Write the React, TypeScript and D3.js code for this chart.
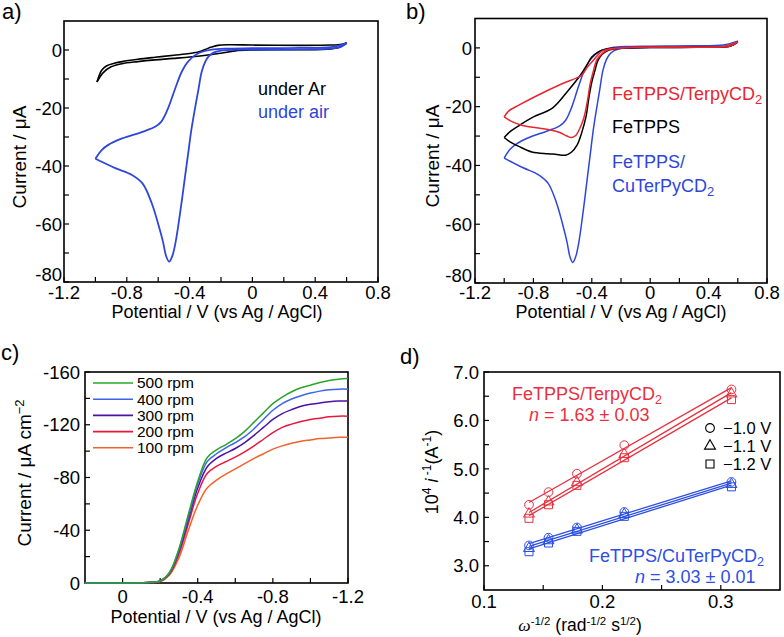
import React from "react";
import * as d3 from "d3";

type Pt = [number, number];

const FONT = "'Liberation Sans', Arial, Helvetica, sans-serif";

// ---------------- Panel a / b : cyclic voltammograms (V, µA) ----------------
const airForward: Pt[] = [
  [0.6, 2.3], [0.56, 1.0], [0.5, 0.5], [0.3, 0.2], [0.1, 0.1], [-0.1, 0.1], [-0.2, -0.2],
  [-0.25, -1.0], [-0.28, -2.3], [-0.3, -4], [-0.323, -7.5], [-0.345, -14], [-0.37, -21.5],
  [-0.39, -28], [-0.41, -36], [-0.43, -44], [-0.46, -56], [-0.49, -66.5], [-0.51, -71],
  [-0.53, -73], [-0.55, -71], [-0.57, -66], [-0.6, -60], [-0.64, -53], [-0.7, -46],
  [-0.77, -43], [-0.87, -40.8], [-1.0, -37.5],
];
const airReturn: Pt[] = [
  [-1.0, -37.5], [-0.96, -34.5], [-0.92, -32.8], [-0.83, -30.5], [-0.7, -28.2], [-0.62, -26.5],
  [-0.58, -24.7], [-0.54, -20.5], [-0.49, -13], [-0.45, -7.5], [-0.41, -4], [-0.35, -1.3],
  [-0.26, 0.1], [-0.15, 0.5], [0, 0.6], [0.3, 0.7], [0.5, 1.0], [0.6, 2.3],
];
const arForward: Pt[] = [
  [0.6, 2.5], [0.56, 1.0], [0.5, 0.4], [0.3, 0.1], [0.0, 0], [-0.11, -0.3], [-0.2, -1.1],
  [-0.32, -2.0], [-0.5, -2.9], [-0.62, -3.4], [-0.73, -4.0], [-0.83, -4.7], [-0.9, -5.8],
  [-0.95, -7.8], [-0.99, -11],
];
const arReturn: Pt[] = [
  [-0.99, -11], [-0.96, -7.0], [-0.93, -5.5], [-0.88, -4.6], [-0.83, -4.0], [-0.73, -3.2],
  [-0.62, -2.5], [-0.5, -1.8], [-0.4, -1.2], [-0.34, -0.6], [-0.3, 0.2], [-0.26, 1.0],
  [-0.22, 1.6], [-0.15, 1.8], [0, 1.7], [0.3, 1.6], [0.5, 1.7], [0.57, 2.0], [0.6, 2.5],
];
const terpyForward: Pt[] = [
  [0.6, 2.0], [0.55, 0.6], [0.4, 0.3], [0.0, 0.2], [-0.2, 0], [-0.24, -0.2], [-0.28, -0.6],
  [-0.31, -1.2], [-0.34, -2.5], [-0.365, -4], [-0.39, -8], [-0.41, -12], [-0.43, -18],
  [-0.45, -23], [-0.47, -26], [-0.51, -29.8], [-0.54, -30.5], [-0.57, -30], [-0.62, -28.8],
  [-0.7, -27.8], [-0.78, -27.2], [-0.88, -26.3], [-0.95, -25], [-1.0, -23.5],
];
const terpyReturn: Pt[] = [
  [-1.0, -23.5], [-0.97, -21.5], [-0.9, -19.5], [-0.77, -16.1], [-0.6, -12.1], [-0.47, -9.3],
  [-0.43, -6.5], [-0.4, -4.8], [-0.36, -2.5], [-0.33, -1.1], [-0.26, -0.2], [-0.1, 0.2],
  [0.2, 0.3], [0.5, 0.5], [0.6, 2.0],
];
const fetppsForward: Pt[] = [
  [0.6, 2.0], [0.55, 0.6], [0.4, 0.3], [0, 0.1], [-0.2, -0.1], [-0.25, -0.4], [-0.29, -0.9],
  [-0.33, -2.2], [-0.36, -4.5], [-0.38, -8], [-0.4, -11.6], [-0.42, -17], [-0.44, -23.5],
  [-0.47, -29], [-0.5, -33], [-0.54, -35.5], [-0.58, -36.5], [-0.65, -36.2], [-0.7, -36],
  [-0.81, -35.4], [-0.9, -33.5], [-0.96, -32], [-1.0, -30.5],
];
const fetppsReturn: Pt[] = [
  [-1.0, -30.5], [-0.96, -28.5], [-0.9, -26.5], [-0.8, -23.5], [-0.67, -20.5], [-0.56, -14.4],
  [-0.47, -8.7], [-0.43, -5.5], [-0.4, -3.1], [-0.36, -1.5], [-0.33, -0.8], [-0.26, -0.1],
  [0, 0.2], [0.4, 0.3], [0.55, 0.6], [0.6, 2.0],
];

const cvXTicks = [-1.2, -0.8, -0.4, 0, 0.4, 0.8];
const cvXMinor = [-1.0, -0.6, -0.2, 0.2, 0.6];
const cvYTicks = [-80, -60, -40, -20, 0];
const cvYMinor = [-70, -50, -30, -10];

// ---------------- Panel c : RDE voltammograms ----------------
const rdePotential = [0.2, 0, -0.1, -0.15, -0.2, -0.25, -0.3, -0.35, -0.4, -0.45, -0.5, -0.55, -0.6,
  -0.65, -0.7, -0.75, -0.8, -0.85, -0.9, -0.95, -1.0, -1.05, -1.1, -1.15, -1.2];
const rpm500 = [0, 0, -0.2, -0.5, -1.5, -8, -26, -52, -77, -95, -101, -105, -109.5, -115, -122,
  -129, -136, -141, -145, -148, -150, -152, -153.5, -154.5, -155];
const rpm400 = [0, 0, -0.2, -0.5, -1.5, -8, -25, -50, -75, -92, -98, -102.5, -106.5, -111, -117,
  -124, -131, -136, -139.5, -142, -144, -145.5, -146.5, -147, -147];
const rpm300 = [0, 0, -0.2, -0.5, -1.5, -7.5, -24, -48, -72, -88, -94.5, -98.5, -102, -106.5, -112,
  -118, -124, -128.5, -131.5, -134, -135.5, -136.5, -137.5, -138, -138];
const rpm200 = [0, 0, -0.2, -0.5, -1.3, -7, -22, -45, -68, -83, -88.5, -92, -95.5, -99.5, -104,
  -109, -114, -118, -120.5, -122.5, -124, -125, -126, -126.5, -126.5];
const rpm100 = [0, 0, -0.2, -0.4, -1, -6, -19, -40, -59, -72, -78, -82.5, -86.5, -90.5, -94.5,
  -98, -101.5, -104, -106, -107.5, -108.5, -109.5, -110, -110.5, -110.5];
const rpmLabels = ["500 rpm", "400 rpm", "300 rpm", "200 rpm", "100 rpm"];
const rpmColors = ["#2aa52a", "#3d63ef", "#4b12a6", "#e8173f", "#f0632b"];
const rdeXTicks = [0, -0.4, -0.8, -1.2];
const rdeXMinor = [-0.2, -0.6, -1.0];
const rdeYTicks = [0, -40, -80, -120, -160];
const rdeYMinor = [-20, -60, -100, -140];

// ---------------- Panel d : Koutecky-Levich ----------------
const omegaInvSqrt = [0.138, 0.1545, 0.1785, 0.2185, 0.309];
const terpy10 = [4.26, 4.52, 4.9, 5.49, 6.64];
const terpy11 = [4.07, 4.32, 4.72, 5.3, 6.55];
const terpy12 = [3.98, 4.26, 4.66, 5.23, 6.43];
const cu10 = [3.42, 3.58, 3.79, 4.11, 4.73];
const cu11 = [3.36, 3.52, 3.74, 4.06, 4.68];
const cu12 = [3.29, 3.47, 3.71, 4.02, 4.63];
const klXTicks = [0.1, 0.2, 0.3];
const klXMinor = [0.15, 0.25];
const klYTicks = [3.0, 4.0, 5.0, 6.0, 7.0];
const klYMinor = [3.5, 4.5, 5.5, 6.5];
const klLegend = ["\u22121.0 V", "\u22121.1 V", "\u22121.2 V"];

const BLUE = "#2e46dc";
const RED = "#e8262f";
const D_RED = "#e8303e";
const D_BLUE = "#2d4fe2";

const fmtCV = (v: number) => (v === 0 ? "0" : v.toFixed(1));

function Axes(props: {
  xs: d3.ScaleLinear<number, number>; ys: d3.ScaleLinear<number, number>;
  xMajor: number[]; xMinor: number[]; yMajor: number[]; yMinor: number[];
  xFmt: (v: number) => string; yFmt: (v: number) => string;
  xBase: number; yRight: number; fs: number; bottomLift?: number;
}) {
  const { xs, ys, xMajor, xMinor, yMajor, yMinor, xFmt, yFmt, xBase, yRight, fs } = props;
  const lift = props.bottomLift || 0;
  const [xa, xb] = xs.range();
  const [yb, yt] = ys.range();
  const L = Math.min(xa, xb), R = Math.max(xa, xb);
  const T = Math.min(yb, yt), B = Math.max(yb, yt);
  const tl = 5;
  return (
    <g>
      {xMajor.concat(xMinor).map((v, i) => (
        <line key={"xt" + i} x1={xs(v)} x2={xs(v)} y1={B} y2={B - tl} stroke="#000" strokeWidth={1.2} />
      ))}
      {yMajor.concat(yMinor).map((v, i) => (
        <line key={"yt" + i} x1={L} x2={L + tl} y1={ys(v)} y2={ys(v)} stroke="#000" strokeWidth={1.2} />
      ))}
      <rect x={L} y={T} width={R - L} height={B - T} fill="none" stroke="#000" strokeWidth={1.6} />
      {xMajor.map((v, i) => (
        <text key={"xl" + i} x={xs(v)} y={xBase} textAnchor="middle" fontSize={fs}>{xFmt(v)}</text>
      ))}
      {yMajor.map((v, i) => (
        <text key={"yl" + i} x={yRight} y={ys(v) - (Math.abs(ys(v) - B) < 1 ? lift : 0)} dy="0.36em"
          textAnchor="end" fontSize={fs}>{yFmt(v)}</text>
      ))}
    </g>
  );
}

function fit(x: number[], y: number[]) {
  const mx = d3.mean(x)!, my = d3.mean(y)!;
  const sxy = d3.sum(x.map((v, i) => (v - mx) * (y[i] - my)));
  const sxx = d3.sum(x.map((v) => (v - mx) * (v - mx)));
  const m = sxy / sxx;
  return { m, b: my - m * mx };
}

export default function App() {
  // scales
  const xA = d3.scaleLinear().domain([-1.2, 0.8]).range([64, 378]);
  const yA = d3.scaleLinear().domain([-80, 10]).range([282, 21]);
  const xB = d3.scaleLinear().domain([-1.2, 0.8]).range([475, 767]);
  const yB = d3.scaleLinear().domain([-80, 10]).range([283, 18.5]);
  const xC = d3.scaleLinear().domain([0.2, -1.2]).range([85, 348]);
  const yC = d3.scaleLinear().domain([0, -160]).range([583, 372]);
  const xD = d3.scaleLinear().domain([0.1, 0.35]).range([484, 780]);
  const yD = d3.scaleLinear().domain([2.5, 7.0]).range([590, 372]);

  const curve = d3.curveCatmullRom.alpha(0.5);
  const lineA = d3.line<Pt>().x((d) => xA(d[0])).y((d) => yA(d[1])).curve(curve);
  const lineB = d3.line<Pt>().x((d) => xB(d[0])).y((d) => yB(d[1])).curve(curve);
  const lineC = (vals: number[]) =>
    d3.line<number>().x((_, i) => xC(rdePotential[i])).y((d) => yC(d)).curve(curve)(vals) || "";

  const rdeSeries = [rpm500, rpm400, rpm300, rpm200, rpm100];

  const symCircle = d3.symbol().type(d3.symbolCircle).size(60)()!;
  const symTri = d3.symbol().type(d3.symbolTriangle).size(52)()!;
  const symSq = d3.symbol().type(d3.symbolSquare).size(64)()!;
  const syms = [symCircle, symTri, symSq];

  const klGroups = [
    { color: D_RED, sets: [terpy10, terpy11, terpy12] },
    { color: D_BLUE, sets: [cu10, cu11, cu12] },
  ];
  const xMin = d3.min(omegaInvSqrt)!, xMax = d3.max(omegaInvSqrt)!;

  return (
    <svg width={784} height={637} style={{ position: "absolute", left: 0, top: 0, display: "block" }}
      fontFamily={FONT}>
      <rect width={784} height={637} fill="#fff" />

      {/* ---------- Panel a ---------- */}
      <text x={2} y={19} fontSize={22}>a)</text>
      <Axes xs={xA} ys={yA} xMajor={cvXTicks} xMinor={cvXMinor} yMajor={cvYTicks} yMinor={cvYMinor}
        xFmt={fmtCV} yFmt={(v) => String(v)} xBase={299} yRight={62} fs={18.5} bottomLift={8} />
      <path d={lineA(arForward)!} fill="none" stroke="#000" strokeWidth={1.6} />
      <path d={lineA(arReturn)!} fill="none" stroke="#000" strokeWidth={1.6} />
      <path d={lineA(airForward)!} fill="none" stroke={BLUE} strokeWidth={1.8} />
      <path d={lineA(airReturn)!} fill="none" stroke={BLUE} strokeWidth={1.8} />
      <text x={258} y={95} fontSize={18}>under Ar</text>
      <text x={258} y={118} fontSize={18} fill={BLUE}>under air</text>
      <text x={217} y={318} fontSize={18} textAnchor="middle">Potential / V (vs Ag / AgCl)</text>
      <text transform="translate(26,157) rotate(-90)" fontSize={19} textAnchor="middle">Current / μA</text>

      {/* ---------- Panel b ---------- */}
      <text x={406} y={19} fontSize={22}>b)</text>
      <Axes xs={xB} ys={yB} xMajor={cvXTicks} xMinor={cvXMinor} yMajor={cvYTicks} yMinor={cvYMinor}
        xFmt={fmtCV} yFmt={(v) => String(v)} xBase={299} yRight={472} fs={18.5} bottomLift={8} />
      <path d={lineB(airForward)!} fill="none" stroke={BLUE} strokeWidth={1.5} />
      <path d={lineB(airReturn)!} fill="none" stroke={BLUE} strokeWidth={1.5} />
      <path d={lineB(fetppsForward)!} fill="none" stroke="#000" strokeWidth={1.5} />
      <path d={lineB(fetppsReturn)!} fill="none" stroke="#000" strokeWidth={1.5} />
      <path d={lineB(terpyForward)!} fill="none" stroke={RED} strokeWidth={1.5} />
      <path d={lineB(terpyReturn)!} fill="none" stroke={RED} strokeWidth={1.5} />
      <text x={612} y={100} fontSize={18} fill={RED}>FeTPPS/TerpyCD<tspan fontSize={13} dy={4}>2</tspan></text>
      <text x={612} y={133} fontSize={18}>FeTPPS</text>
      <text x={612} y={168} fontSize={18} fill={BLUE}>FeTPPS/</text>
      <text x={612} y={192} fontSize={18} fill={BLUE}>CuTerPyCD<tspan fontSize={13} dy={4}>2</tspan></text>
      <text x={621} y={318} fontSize={18} textAnchor="middle">Potential / V (vs Ag / AgCl)</text>
      <text transform="translate(439,156) rotate(-90)" fontSize={19} textAnchor="middle">Current / μA</text>

      {/* ---------- Panel c ---------- */}
      <text x={1} y={360} fontSize={22}>c)</text>
      <Axes xs={xC} ys={yC} xMajor={rdeXTicks} xMinor={rdeXMinor} yMajor={rdeYTicks} yMinor={rdeYMinor}
        xFmt={fmtCV} yFmt={(v) => String(v)} xBase={603} yRight={80} fs={18.5} />
      {rdeSeries.slice().reverse().map((s, i) => (
        <path key={"rde" + i} d={lineC(s)} fill="none" stroke={rpmColors[rdeSeries.length - 1 - i]} strokeWidth={1.5} />
      ))}
      {rpmLabels.map((lab, i) => (
        <g key={"lg" + i}>
          <line x1={93} x2={133} y1={383 + i * 16.2} y2={383 + i * 16.2} stroke={rpmColors[i]} strokeWidth={1.6} />
          <text x={137} y={383 + i * 16.2} dy="0.35em" fontSize={15.5}>{lab}</text>
        </g>
      ))}
      <text x={216} y={623} fontSize={18} textAnchor="middle">Potential / V (vs Ag / AgCl)</text>
      <text transform="translate(31,473) rotate(-90)" fontSize={19} textAnchor="middle">
        Current / μA cm<tspan fontSize={13} dy={-7}>−2</tspan>
      </text>

      {/* ---------- Panel d ---------- */}
      <text x={400} y={364} fontSize={22}>d)</text>
      <Axes xs={xD} ys={yD} xMajor={klXTicks} xMinor={klXMinor} yMajor={klYTicks} yMinor={klYMinor}
        xFmt={(v) => v.toFixed(1)} yFmt={(v) => v.toFixed(1)} xBase={608} yRight={479} fs={18.5} />
      {klGroups.map((g, gi) => (
        <g key={"kg" + gi}>
          {g.sets.map((ys, si) => {
            const f = fit(omegaInvSqrt, ys);
            return (
              <g key={"ks" + si}>
                <line x1={xD(xMin)} x2={xD(xMax)} y1={yD(f.m * xMin + f.b)} y2={yD(f.m * xMax + f.b)}
                  stroke={g.color} strokeWidth={1.3} />
                {ys.map((v, i) => (
                  <path key={"pt" + i} d={syms[si]} transform={`translate(${xD(omegaInvSqrt[i])},${yD(v)})`}
                    fill="none" stroke={g.color} strokeWidth={1} />
                ))}
              </g>
            );
          })}
        </g>
      ))}
      <text x={512} y={400} fontSize={18} fill={D_RED}>FeTPPS/TerpyCD<tspan fontSize={12.5} dy={3.5}>2</tspan></text>
      <text x={529} y={421} fontSize={18} fill={D_RED}><tspan fontStyle="italic">n</tspan> = 1.63 ± 0.03</text>
      <text x={589} y={562} fontSize={18} fill={D_BLUE}>FeTPPS/CuTerPyCD<tspan fontSize={12.5} dy={3.5}>2</tspan></text>
      <text x={635} y={583} fontSize={18} fill={D_BLUE}><tspan fontStyle="italic">n</tspan> = 3.03 ± 0.01</text>
      {klLegend.map((lab, i) => (
        <g key={"kl" + i}>
          <path d={syms[i]} transform={`translate(710,${428 + i * 18})`} fill="none" stroke="#000" strokeWidth={1.1} />
          <text x={723} y={428 + i * 18} dy="0.36em" fontSize={16.5}>{lab}</text>
        </g>
      ))}
      <text x={580} y={631} fontSize={17.5} textAnchor="middle">
        <tspan fontFamily="'Liberation Serif', 'Times New Roman', serif" fontStyle="italic">ω</tspan>
        <tspan fontSize={11.5} dy={-6}>-1/2</tspan>
        <tspan dy={6}> (rad</tspan>
        <tspan fontSize={11.5} dy={-6}>-1/2</tspan>
        <tspan dy={6}> s</tspan>
        <tspan fontSize={11.5} dy={-6}>1/2</tspan>
        <tspan dy={6}>)</tspan>
      </text>
      <text transform="translate(438,472) rotate(-90)" fontSize={18} textAnchor="middle">
        10<tspan fontSize={12} dy={-7}>4</tspan>
        <tspan dy={7}> </tspan>
        <tspan fontStyle="italic">i</tspan>
        <tspan fontSize={12} dy={-7}> -1</tspan>
        <tspan dy={7}>(A</tspan>
        <tspan fontSize={12} dy={-7}>-1</tspan>
        <tspan dy={7}>)</tspan>
      </text>
    </svg>
  );
}
